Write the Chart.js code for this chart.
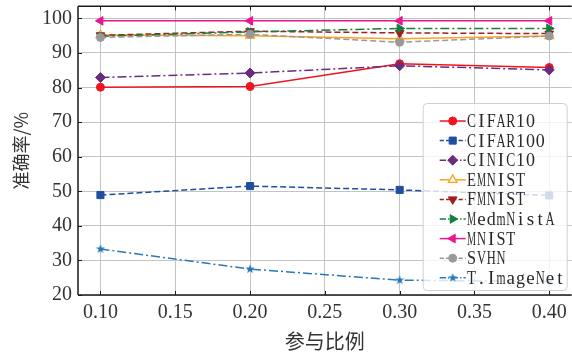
<!DOCTYPE html>
<html>
<head>
<meta charset="utf-8">
<script src="https://cdn.jsdelivr.net/npm/chart.js@4/dist/chart.umd.min.js"></script>
<style>
  html, body { margin: 0; padding: 0; background: #fff; overflow: hidden; }
  #wrap { width: 578px; height: 354px; position: relative; }
</style>
</head>
<body>
<div id="wrap"><canvas id="accChart"></canvas></div>
<script>
// participation ratio on x
const ratios = [0.10, 0.20, 0.30, 0.40];
const xTicks = [0.10, 0.15, 0.20, 0.25, 0.30, 0.35, 0.40];
const yTicks = [20, 30, 40, 50, 60, 70, 80, 90, 100];

const names = ["CIFAR10", "CIFAR100", "CINIC10", "EMNIST", "FMNIST", "MedmNistA", "MNIST", "SVHN", "T.ImageNet"];
const cifar10 = [80.1, 80.3, 86.9, 85.8];
const cifar100 = [48.9, 51.5, 50.4, 48.8];
const cinic10 = [82.9, 84.2, 86.3, 85.1];
const emnist = [95.2, 95.0, 94.1, 94.9];
const fmnist = [95.1, 96.3, 95.8, 95.6];
const medmnist = [94.8, 96.1, 97.1, 97.1];
const mnist = [99.3, 99.3, 99.3, 99.3];
const svhn = [94.5, 95.4, 93.1, 94.9];
const timagenet = [33.3, 27.5, 24.3, 23.9];

function starImage(color) {
  const c = document.createElement("canvas");
  c.width = 10; c.height = 10;
  const g = c.getContext("2d");
  g.fillStyle = color;
  g.beginPath();
  for (let i = 0; i < 10; i++) {
    const r = i % 2 === 0 ? 4.8 : 2.0;
    const a = -Math.PI / 2 + i * Math.PI / 5;
    g.lineTo(5 + r * Math.cos(a), 5 + r * Math.sin(a));
  }
  g.closePath();
  g.fill();
  return c;
}

const DASHED = [6, 3];
const DASHDOT = [9, 3, 2, 3];

const styles = [
  { color: "#f0141e", dash: [], point: "circle", r: 4, rot: 0 },
  { color: "#1f4ea1", dash: DASHED, point: "rect", r: 5, rot: 0 },
  { color: "#6b2c7f", dash: DASHDOT, point: "rectRot", r: 5, rot: 0 },
  { color: "#ffa11a", dash: [], point: "triangle", r: 5, rot: 0, hollow: true },
  { color: "#a51d1d", dash: DASHED, point: "triangle", r: 5, rot: 180 },
  { color: "#127f3f", dash: DASHDOT, point: "triangle", r: 5, rot: 90 },
  { color: "#ec1591", dash: [], point: "triangle", r: 5, rot: 270 },
  { color: "#999999", dash: DASHED, point: "circle", r: 4, rot: 0 },
  { color: "#2878b8", dash: DASHDOT, point: starImage("#2878b8"), r: 4, rot: 0 },
];
const series = [cifar10, cifar100, cinic10, emnist, fmnist, medmnist, mnist, svhn, timagenet];

const datasets = series.map((vals, i) => {
  const s = styles[i];
  return {
    label: names[i],
    data: ratios.map((x, j) => ({ x: x, y: vals[j] })),
    borderColor: s.color,
    backgroundColor: s.hollow ? "#ffffff" : s.color,
    borderWidth: 1.5,
    borderDash: s.dash,
    pointStyle: s.point,
    pointRadius: s.r,
    pointRotation: s.rot,
    pointBorderWidth: s.hollow ? 1.3 : 1,
    order: series.length - i,
  };
});

function drawMarker(ctx, s, x, y) {
  if (typeof s.point !== "string") {
    ctx.drawImage(s.point, x - 5, y - 5);
    return;
  }
  ctx.save();
  ctx.setLineDash([]);
  ctx.fillStyle = s.hollow ? "#ffffff" : s.color;
  ctx.strokeStyle = s.color;
  ctx.lineWidth = s.hollow ? 1.3 : 1;
  ctx.beginPath();
  const r = s.r;
  if (s.point === "circle") {
    ctx.arc(x, y, r, 0, Math.PI * 2);
  } else if (s.point === "rect") {
    const h = r * Math.SQRT1_2;
    ctx.rect(x - h, y - h, 2 * h, 2 * h);
  } else if (s.point === "rectRot") {
    ctx.moveTo(x, y - r); ctx.lineTo(x + r, y); ctx.lineTo(x, y + r); ctx.lineTo(x - r, y);
    ctx.closePath();
  } else if (s.point === "triangle") {
    const rad = s.rot * Math.PI / 180;
    for (let k = 0; k < 3; k++) {
      const a = rad + k * 2 * Math.PI / 3;
      ctx.lineTo(x + Math.sin(a) * r, y - Math.cos(a) * r);
    }
    ctx.closePath();
  }
  ctx.fill();
  ctx.stroke();
  ctx.restore();
}

// half-width serif text, one glyph per fixed cell (like SimSun latin)
function fixedText(ctx, text, x, y, cell) {
  for (let i = 0; i < text.length; i++) {
    const ch = text[i];
    const w = ctx.measureText(ch).width;
    const cx = x + cell * i + cell / 2;
    const k = w > cell * 0.92 ? (cell * 0.92) / w : 1;
    ctx.save();
    ctx.translate(cx, y);
    ctx.scale(k, 1);
    ctx.fillText(ch, 0, 0);
    ctx.restore();
  }
}

// axes spines, inward ticks and the boxed legend in the lower right
const framePlugin = {
  id: "frame",
  afterDatasetsDraw(chart) {
    const { ctx, chartArea: a, scales } = chart;
    ctx.save();
    ctx.strokeStyle = "#1a1a1a";
    ctx.lineWidth = 1.5;
    ctx.beginPath();
    ctx.moveTo(a.left, a.top); ctx.lineTo(a.right, a.top);
    ctx.moveTo(a.left, a.top); ctx.lineTo(a.left, a.bottom);
    ctx.moveTo(a.left, a.bottom); ctx.lineTo(a.right, a.bottom);
    ctx.stroke();
    ctx.lineWidth = 1;
    ctx.beginPath();
    yTicks.forEach(v => {
      const py = Math.round(scales.y.getPixelForValue(v)) + 0.5;
      ctx.moveTo(a.left, py); ctx.lineTo(a.left + 4, py);
    });
    xTicks.forEach(v => {
      const px = Math.round(scales.x.getPixelForValue(v)) + 0.5;
      ctx.moveTo(px, a.bottom); ctx.lineTo(px, a.bottom - 4);
      ctx.moveTo(px, a.top); ctx.lineTo(px, a.top + 4);
    });
    ctx.stroke();
    ctx.restore();
  },
  afterDraw(chart) {
    const { ctx, chartArea: a } = chart;
    const w = 144, h = 187;
    const bx = a.right - 5 - w, by = a.bottom - 5 - h;
    ctx.save();
    ctx.fillStyle = "rgba(255,255,255,0.8)";
    ctx.strokeStyle = "#d0d0d0";
    ctx.lineWidth = 1;
    ctx.beginPath();
    ctx.roundRect(bx + 0.5, by + 0.5, w, h, 4);
    ctx.fill();
    ctx.stroke();
    ctx.font = "19px 'Liberation Serif', serif";
    ctx.textBaseline = "middle";
    ctx.textAlign = "center";
    names.forEach((name, i) => {
      const s = styles[i];
      const ry = by + 18 + i * 19.6;
      ctx.strokeStyle = s.color;
      ctx.lineWidth = 1.5;
      ctx.setLineDash(s.dash.length ? s.dash.map(d => d * 0.7) : []);
      ctx.beginPath();
      ctx.moveTo(bx + 17, ry); ctx.lineTo(bx + 43, ry);
      ctx.stroke();
      ctx.setLineDash([]);
      drawMarker(ctx, s, bx + 30, ry);
      ctx.fillStyle = "#2a2a2a";
      fixedText(ctx, name, bx + 44, ry + 1, 9.8);
    });
    ctx.restore();
  },
};

new Chart(document.getElementById("accChart"), {
  type: "line",
  data: { datasets: datasets },
  options: {
    responsive: true,
    maintainAspectRatio: false,
    animation: false,
    layout: { padding: { top: 5, right: 0, left: 0, bottom: 0 } },
    plugins: {
      legend: { display: false },
      tooltip: { enabled: false },
    },
    scales: {
      x: {
        type: "linear",
        min: 0.085,
        max: 0.415,
        afterBuildTicks: scale => { scale.ticks = xTicks.map(v => ({ value: v })); },
        afterFit: scale => {
          scale.height = 59;
          scale.paddingLeft = 0;
          scale.paddingRight = 0;
        },
        ticks: {
          padding: 6,
          color: "#333",
          font: { family: "'Liberation Serif', serif", size: 20 },
          callback: v => Number(v).toFixed(2),
        },
        grid: { color: "#c4c4c4", lineWidth: 1, drawTicks: false },
        border: { display: false },
        title: {
          display: true,
          text: "参与比例",
          color: "#333",
          font: { family: "'Noto Sans CJK SC', sans-serif", size: 20 },
          padding: { top: 0, bottom: 1 },
        },
      },
      y: {
        min: 20,
        max: 103.5,
        afterBuildTicks: scale => { scale.ticks = yTicks.map(v => ({ value: v })); },
        afterFit: scale => {
          scale.width = 78;
          scale.paddingTop = 0;
          scale.paddingBottom = 0;
        },
        ticks: {
          padding: 6,
          color: "#333",
          font: { family: "'Liberation Serif', serif", size: 20 },
        },
        grid: { color: "#c4c4c4", lineWidth: 1, drawTicks: false },
        border: { display: false },
        title: {
          display: true,
          text: "准确率/%",
          color: "#333",
          font: { family: "'Noto Sans CJK SC', sans-serif", size: 18 },
          padding: { top: 10, bottom: 0 },
        },
      },
    },
  },
  plugins: [framePlugin],
});
</script>
</body>
</html>
